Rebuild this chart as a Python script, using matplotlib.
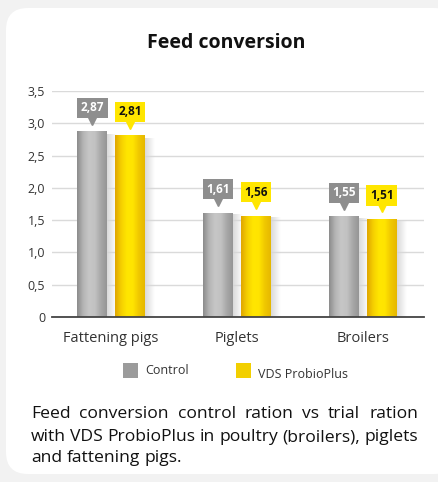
import numpy as np
import matplotlib
matplotlib.use('Agg')
import matplotlib.pyplot as plt
from matplotlib.colors import LinearSegmentedColormap
from matplotlib.patches import FancyBboxPatch, Rectangle
from matplotlib.transforms import offset_copy

categories = ['Fattening pigs', 'Piglets', 'Broilers']
series_names = ['Control', 'VDS ProbioPlus']
control = [2.87, 1.61, 1.55]
probio = [2.81, 1.56, 1.51]
yticks = [0, 0.5, 1.0, 1.5, 2.0, 2.5, 3.0, 3.5]
caption_lines = [
    'Feed conversion control ration vs trial ration',
    'with VDS ProbioPlus in poultry (broilers), piglets',
    'and fattening pigs.',
]

plt.rcParams['font.family'] = ['Open Sans', 'DejaVu Sans']

W, H = 439, 482
fig = plt.figure(figsize=(W / 100, H / 100), dpi=100, facecolor='#f2f2f2')

# white card with rounded corners
card = FancyBboxPatch((0.06, 0.08), 4.5, 4.66, boxstyle='round,pad=0,rounding_size=0.22',
                      transform=fig.dpi_scale_trans, facecolor='white', edgecolor='none', zorder=0)
fig.add_artist(card)

ax = fig.add_axes([52 / W, (H - 317) / H, (424 - 52) / W, (317 - 91) / H])
ax.set_facecolor('none')

x = np.arange(len(categories))
width = 0.235
offs = 0.15

gray_cmap = LinearSegmentedColormap.from_list('g', ['#8c8c8c', '#b4b4b4', '#c6c6c6', '#c2c2c2', '#a8a8a8', '#969696'])
yel_cmap = LinearSegmentedColormap.from_list('y', ['#e0a600', '#f5cf00', '#ffe600', '#ffe400', '#f0c800', '#e6b800'])
grad = np.linspace(0, 1, 64).reshape(1, -1)

# shadow gradient (light gray fading to white)
shadow = np.zeros((1, 32, 4))
shadow[..., :3] = 0.84
shadow[..., 3] = np.linspace(0.9, 0.0, 32)

bars_c = ax.bar(x - offs, control, width, color='#aaaaaa', zorder=2)
bars_p = ax.bar(x + offs, probio, width, color='#ffe000', zorder=2)

for bars, cmap in [(bars_c, gray_cmap), (bars_p, yel_cmap)]:
    for b in bars:
        x0, w, h = b.get_x(), b.get_width(), b.get_height()
        ax.imshow(shadow, extent=(x0 + w, x0 + w + 0.075, 0, h * 0.985), aspect='auto', zorder=1.5)
        ax.imshow(grad, cmap=cmap, extent=(x0, x0 + w, 0, h), aspect='auto', zorder=3)

# value callouts
tri_trans = offset_copy(ax.transData, fig=fig, y=11, units='dots')
for xs, vals, fc, tc in [(x - offs, control, '#8e8e8e', 'white'), (x + offs, probio, '#ffe600', '#111111')]:
    for xi, v in zip(xs, vals):
        ax.annotate(f'{v:.2f}'.replace('.', ','), (xi, v), xytext=(0, 24), textcoords='offset pixels',
                    ha='center', va='center', fontsize=8.5, fontweight='bold', color=tc,
                    bbox=dict(boxstyle='square,pad=0.3', fc=fc, ec='none'), zorder=5)
        ax.plot(xi, v, marker='v', markersize=6, color=fc, transform=tri_trans, zorder=5, clip_on=False)

ax.set_xlim(-0.47, 2.485)
ax.set_ylim(0, 3.5)
ax.set_yticks(yticks)
ax.set_yticklabels(['0' if t == 0 else f'{t:.1f}'.replace('.', ',') for t in yticks])
ax.set_xticks(x)
ax.set_xticklabels(categories)
ax.tick_params(axis='y', length=0, pad=5, labelsize=9, labelcolor='#333333')
ax.tick_params(axis='x', length=0, pad=10, labelsize=10.5, labelcolor='#333333')
ax.grid(axis='y', color='#dadada', lw=1)
ax.set_axisbelow(True)
for s in ['top', 'right', 'left']:
    ax.spines[s].set_visible(False)
ax.spines['bottom'].set_color('#444444')
ax.spines['bottom'].set_linewidth(1.3)
ax.spines['bottom'].set_zorder(6)

fig.text(226 / W, 1 - 43 / H, 'Feed conversion', ha='center', va='center',
         fontsize=14, fontweight='bold', color='#111111')

# legend
leg_items = [(123, 145, 371, '#9b9b9b'), (236, 258, 374, '#f2cf00')]
for (sx, tx, ty, c), name in zip(leg_items, series_names):
    fig.add_artist(Rectangle((sx / W, 1 - 378 / H), 15 / W, 15 / H, transform=fig.transFigure,
                             facecolor=c, edgecolor='none'))
    fig.text(tx / W, 1 - ty / H, name, ha='left', va='center', fontsize=9, color='#333333')

# justified caption
renderer = fig.canvas.get_renderer()
left_px, right_px = 31, 418
baselines = [418, 441, 462]
cap_size = 12.6
for i, (line, yb) in enumerate(zip(caption_lines, baselines)):
    words = line.split(' ')
    texts = [fig.text(0, 1 - yb / H, wd, fontsize=cap_size, color='#111111', va='baseline') for wd in words]
    widths = [t.get_window_extent(renderer).width for t in texts]
    if i == len(caption_lines) - 1:
        sp = fig.text(0, 0, 'a a', fontsize=cap_size)
        sp2 = fig.text(0, 0, 'aa', fontsize=cap_size)
        gap = sp.get_window_extent(renderer).width - sp2.get_window_extent(renderer).width
        sp.remove()
        sp2.remove()
    else:
        gap = (right_px - left_px - sum(widths)) / (len(words) - 1)
    xp = left_px
    for t, wd in zip(texts, widths):
        t.set_x(xp / W)
        xp += wd + gap

fig.savefig('out.png', dpi=100, facecolor=fig.get_facecolor())
